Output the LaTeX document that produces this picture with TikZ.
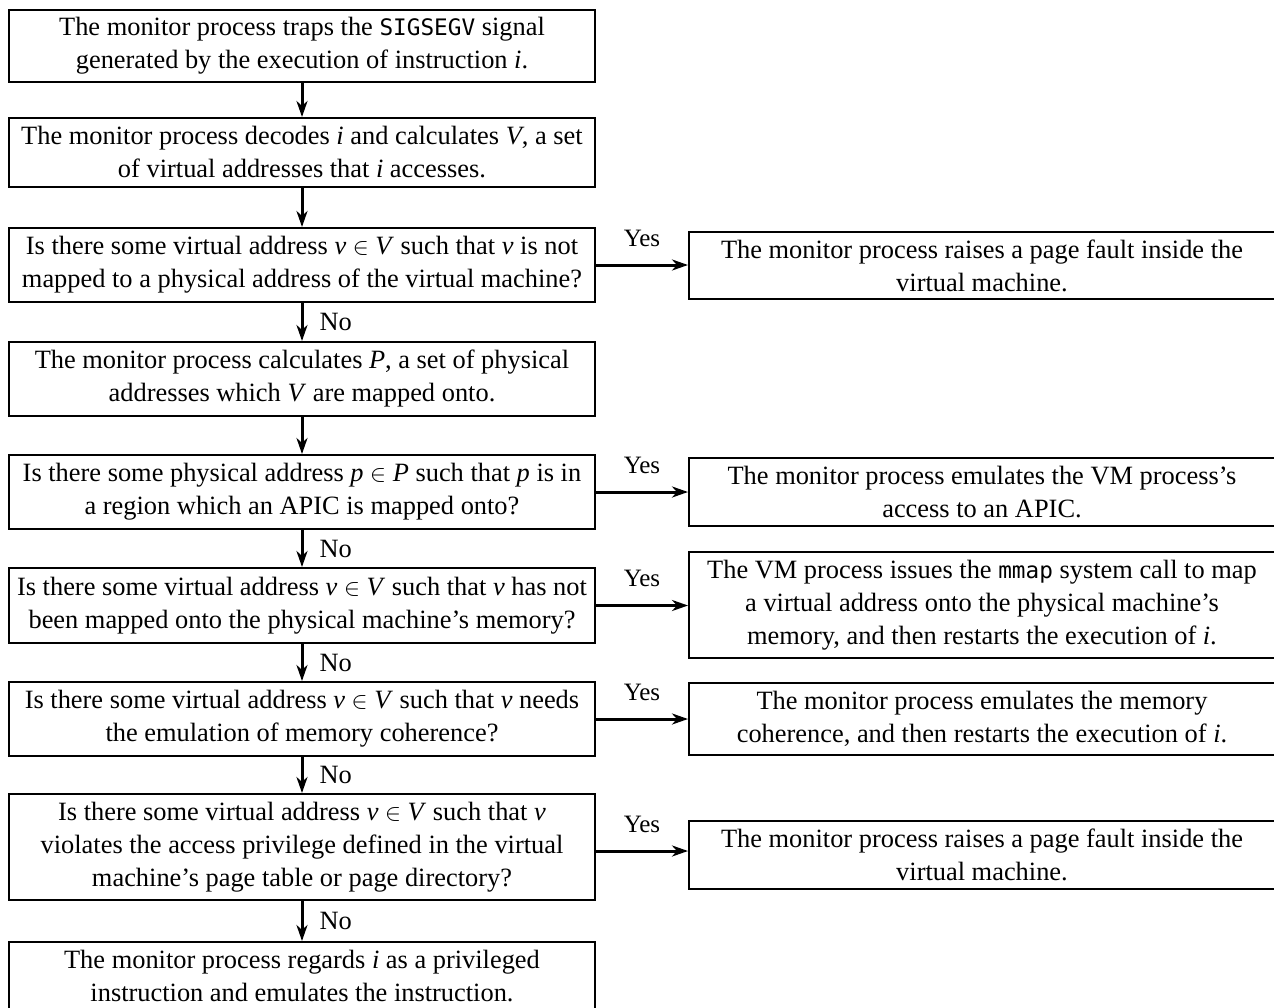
\documentclass[tikz,border=0pt]{standalone}
\usepackage{fontspec}
\setmainfont{Liberation Serif}
\setmonofont{DejaVu Sans Mono}[Scale=0.86]
\usetikzlibrary{arrows.meta}

\begin{document}
\begin{tikzpicture}[x=0.5pt,y=-0.5pt,
  box/.style={draw, line width=1pt, minimum width=293pt, align=center,
    inner sep=0pt, font=\fontsize{13.2}{16.5}\selectfont},
  flow/.style={line width=1.5pt, -{Stealth[length=8pt,width=5.5pt,inset=2.5pt]}},
  nolbl/.style={font=\fontsize{13.2}{16.5}\selectfont, inner sep=0pt},
  yeslbl/.style={font=\fontsize{12.5}{15}\selectfont, inner sep=0pt}]
\clip (0,0) rectangle (1274,1007);

% main column
\node[box, minimum height=36pt] (b1) at (302,46)
  {The monitor process traps the \texttt{SIGSEGV} signal\\
   generated by the execution of instruction \textit{i}.};
\node[box, minimum height=34.5pt] (b2) at (302,152.5)
  {The monitor process decodes \textit{i} and calculates \textit{V}, a set\\
   of virtual addresses that \textit{i} accesses.};
\node[box, minimum height=37pt] (b3) at (302,265)
  {Is there some virtual address \textit{v} $\in$ \textit{V} such that \textit{v} is not\\
   mapped to a physical address of the virtual machine?};
\node[box, minimum height=37pt] (b4) at (302,379)
  {The monitor process calculates \textit{P}, a set of physical\\
   addresses which \textit{V} are mapped onto.};
\node[box, minimum height=37pt] (b5) at (302,492)
  {Is there some physical address \textit{p} $\in$ \textit{P} such that \textit{p} is in\\
   a region which an APIC is mapped onto?};
\node[box, minimum height=37.5pt] (b6) at (302,605.5)
  {Is there some virtual address \textit{v} $\in$ \textit{V} such that \textit{v} has not\\
   been mapped onto the physical machine's memory?};
\node[box, minimum height=37pt] (b7) at (302,719)
  {Is there some virtual address \textit{v} $\in$ \textit{V} such that \textit{v} needs\\
   the emulation of memory coherence?};
\node[box, minimum height=53pt] (b8) at (302,847)
  {Is there some virtual address \textit{v} $\in$ \textit{V} such that \textit{v}\\
   violates the access privilege defined in the virtual\\
   machine's page table or page directory?};
\node[box, minimum height=34.5pt] (b9) at (302,976.5)
  {The monitor process regards \textit{i} as a privileged\\
   instruction and emulates the instruction.};

% outcome column
\node[box, minimum height=33.5pt] (r1) at (982,265.5)
  {The monitor process raises a page fault inside the\\
   virtual machine.};
\node[box, minimum height=34pt] (r2) at (982,492)
  {The monitor process emulates the VM process's\\
   access to an APIC.};
\node[box, minimum height=53pt] (r3) at (982,605)
  {The VM process issues the \texttt{mmap} system call to map\\
   a virtual address onto the physical machine's\\
   memory, and then restarts the execution of \textit{i}.};
\node[box, minimum height=36pt] (r4) at (982,719)
  {The monitor process emulates the memory\\
   coherence, and then restarts the execution of \textit{i}.};
\node[box, minimum height=34pt] (r5) at (982,855)
  {The monitor process raises a page fault inside the\\
   virtual machine.};

% sequence arrows
\draw[flow] (b1) -- (b2);
\draw[flow] (b2) -- (b3);
\draw[flow] (b3) -- (b4) node[midway, right=8pt, nolbl] {No};
\draw[flow] (b4) -- (b5);
\draw[flow] (b5) -- (b6) node[midway, right=8pt, nolbl] {No};
\draw[flow] (b6) -- (b7) node[midway, right=8pt, nolbl] {No};
\draw[flow] (b7) -- (b8) node[midway, right=8pt, nolbl] {No};
\draw[flow] (b8) -- (b9) node[midway, right=8pt, nolbl] {No};

% branch arrows
\draw[flow] (b3.east) -- (b3.east -| r1.west) node[midway, above=8.5pt, yeslbl] {Yes};
\draw[flow] (b5.east) -- (b5.east -| r2.west) node[midway, above=8.5pt, yeslbl] {Yes};
\draw[flow] (b6.east) -- (b6.east -| r3.west) node[midway, above=8.5pt, yeslbl] {Yes};
\draw[flow] (b7.east) -- (b7.east -| r4.west) node[midway, above=8.5pt, yeslbl] {Yes};
\draw[flow] ([yshift=-2pt]b8.east) -- ([yshift=-2pt]b8.east -| r5.west)
  node[midway, above=8.5pt, yeslbl] {Yes};
\end{tikzpicture}
\end{document}
